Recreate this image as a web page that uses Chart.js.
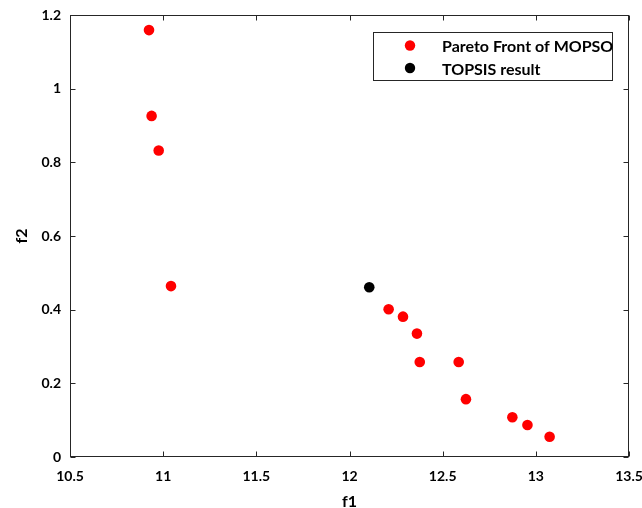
<!DOCTYPE html>
<html>
<head>
<meta charset="utf-8">
<script src="https://cdn.jsdelivr.net/npm/chart.js@4"></script>
<style>
  html, body { margin: 0; padding: 0; background: #fff; }
  #wrap { width: 642px; height: 508px; }
</style>
</head>
<body>
<div id="wrap"><canvas id="chart"></canvas></div>
<script>
// values
const paretoX = [10.924, 10.938, 10.976, 11.042, 12.21, 12.287, 12.362, 12.377, 12.586, 12.625, 12.874, 12.955, 13.074];
const paretoY = [1.159, 0.926, 0.832, 0.464, 0.401, 0.381, 0.335, 0.258, 0.258, 0.157, 0.108, 0.087, 0.055];
const topsisX = [12.106];
const topsisY = [0.461];

const seriesLabels = ["Pareto Front of MOPSO", "TOPSIS result"];
const xTicks = [10.5, 11, 11.5, 12, 12.5, 13, 13.5];
const xTickLabels = ["10.5", "11", "11.5", "12", "12.5", "13", "13.5"];
const yTicks = [0, 0.2, 0.4, 0.6, 0.8, 1, 1.2];
const yTickLabels = ["0", "0.2", "0.4", "0.6", "0.8", "1", "1.2"];

const axisColor = "#262626";
Chart.defaults.font.family = "Lato";

// MATLAB style box with inward ticks on all four sides
const boxAxes = {
  id: "boxAxes",
  beforeDatasetsDraw(chart) {
    const { ctx, chartArea: a, scales } = chart;
    const L = Math.round(a.left) + 0.5, R = Math.round(a.right) - 0.5;
    const T = Math.round(a.top) + 0.5, B = Math.round(a.bottom) - 0.5;
    const len = 5;
    ctx.save();
    ctx.strokeStyle = axisColor;
    ctx.lineWidth = 1;
    ctx.strokeRect(L, T, R - L, B - T);
    ctx.beginPath();
    xTicks.forEach(v => {
      const x = Math.round(scales.x.getPixelForValue(v)) + 0.5;
      ctx.moveTo(x, B); ctx.lineTo(x, B - len);
      ctx.moveTo(x, T); ctx.lineTo(x, T + len);
    });
    yTicks.forEach(v => {
      const y = Math.round(scales.y.getPixelForValue(v)) + 0.5;
      ctx.moveTo(L, y); ctx.lineTo(L + len, y);
      ctx.moveTo(R, y); ctx.lineTo(R - len, y);
    });
    ctx.stroke();
    ctx.restore();
  }
};

// legend box inside the axes, top right
const boxLegend = {
  id: "boxLegend",
  afterDraw(chart) {
    const { ctx } = chart;
    const x0 = 373.5, y0 = 32.5, w = 239, h = 48;
    ctx.save();
    ctx.fillStyle = "#fff";
    ctx.fillRect(x0, y0, w, h);
    ctx.strokeStyle = axisColor;
    ctx.lineWidth = 1;
    ctx.strokeRect(x0, y0, w, h);
    ctx.font = "bold 16px Lato";
    ctx.textBaseline = "middle";
    chart.data.datasets.forEach((ds, i) => {
      const cy = 45.5 + i * 22.5;
      ctx.fillStyle = ds.backgroundColor;
      ctx.beginPath();
      ctx.arc(410, cy, 5.2, 0, Math.PI * 2);
      ctx.fill();
      ctx.fillStyle = "#000";
      ctx.fillText(ds.label, 442, cy + 1.5);
    });
    ctx.restore();
  }
};

const toPoints = (xs, ys) => xs.map((x, i) => ({ x: x, y: ys[i] }));

new Chart(document.getElementById("chart"), {
  type: "scatter",
  data: {
    datasets: [
      {
        label: seriesLabels[0],
        data: toPoints(paretoX, paretoY),
        backgroundColor: "rgb(255,0,0)",
        borderWidth: 0,
        pointRadius: 5.3,
      },
      {
        label: seriesLabels[1],
        data: toPoints(topsisX, topsisY),
        backgroundColor: "rgb(0,0,0)",
        borderWidth: 0,
        pointRadius: 5.3,
      },
    ],
  },
  options: {
    responsive: true,
    maintainAspectRatio: false,
    animation: false,
    layout: { padding: { top: 15, right: 13, left: 0, bottom: 0 } },
    plugins: { legend: { display: false }, tooltip: { enabled: false } },
    scales: {
      x: {
        min: 10.5,
        max: 13.5,
        afterBuildTicks: (s) => { s.ticks = xTicks.map(v => ({ value: v })); },
        afterFit: (s) => { s.height = 51; s.paddingLeft = 0; s.paddingRight = 0; },
        grid: { display: false, drawTicks: false },
        border: { display: false },
        ticks: {
          padding: 11,
          color: "#000",
          font: { size: 14, weight: "bold" },
          maxRotation: 0,
          autoSkip: false,
          callback: (v, i) => xTickLabels[i],
        },
        title: { display: true, text: "f1", color: "#000", font: { size: 16, weight: "bold" }, padding: { top: 0, bottom: -3 } },
      },
      y: {
        min: 0,
        max: 1.2,
        afterBuildTicks: (s) => { s.ticks = yTicks.map(v => ({ value: v })); },
        afterFit: (s) => { s.width = 70; s.paddingTop = 0; s.paddingBottom = 0; },
        grid: { display: false, drawTicks: false },
        border: { display: false },
        ticks: {
          padding: 9,
          color: "#000",
          font: { size: 14, weight: "bold" },
          autoSkip: false,
          callback: (v, i) => yTickLabels[i],
        },
        title: { display: true, text: "f2", color: "#000", font: { size: 16, weight: "bold" }, padding: { top: 12, bottom: 0 } },
      },
    },
  },
  plugins: [boxAxes, boxLegend],
});
</script>
</body>
</html>
